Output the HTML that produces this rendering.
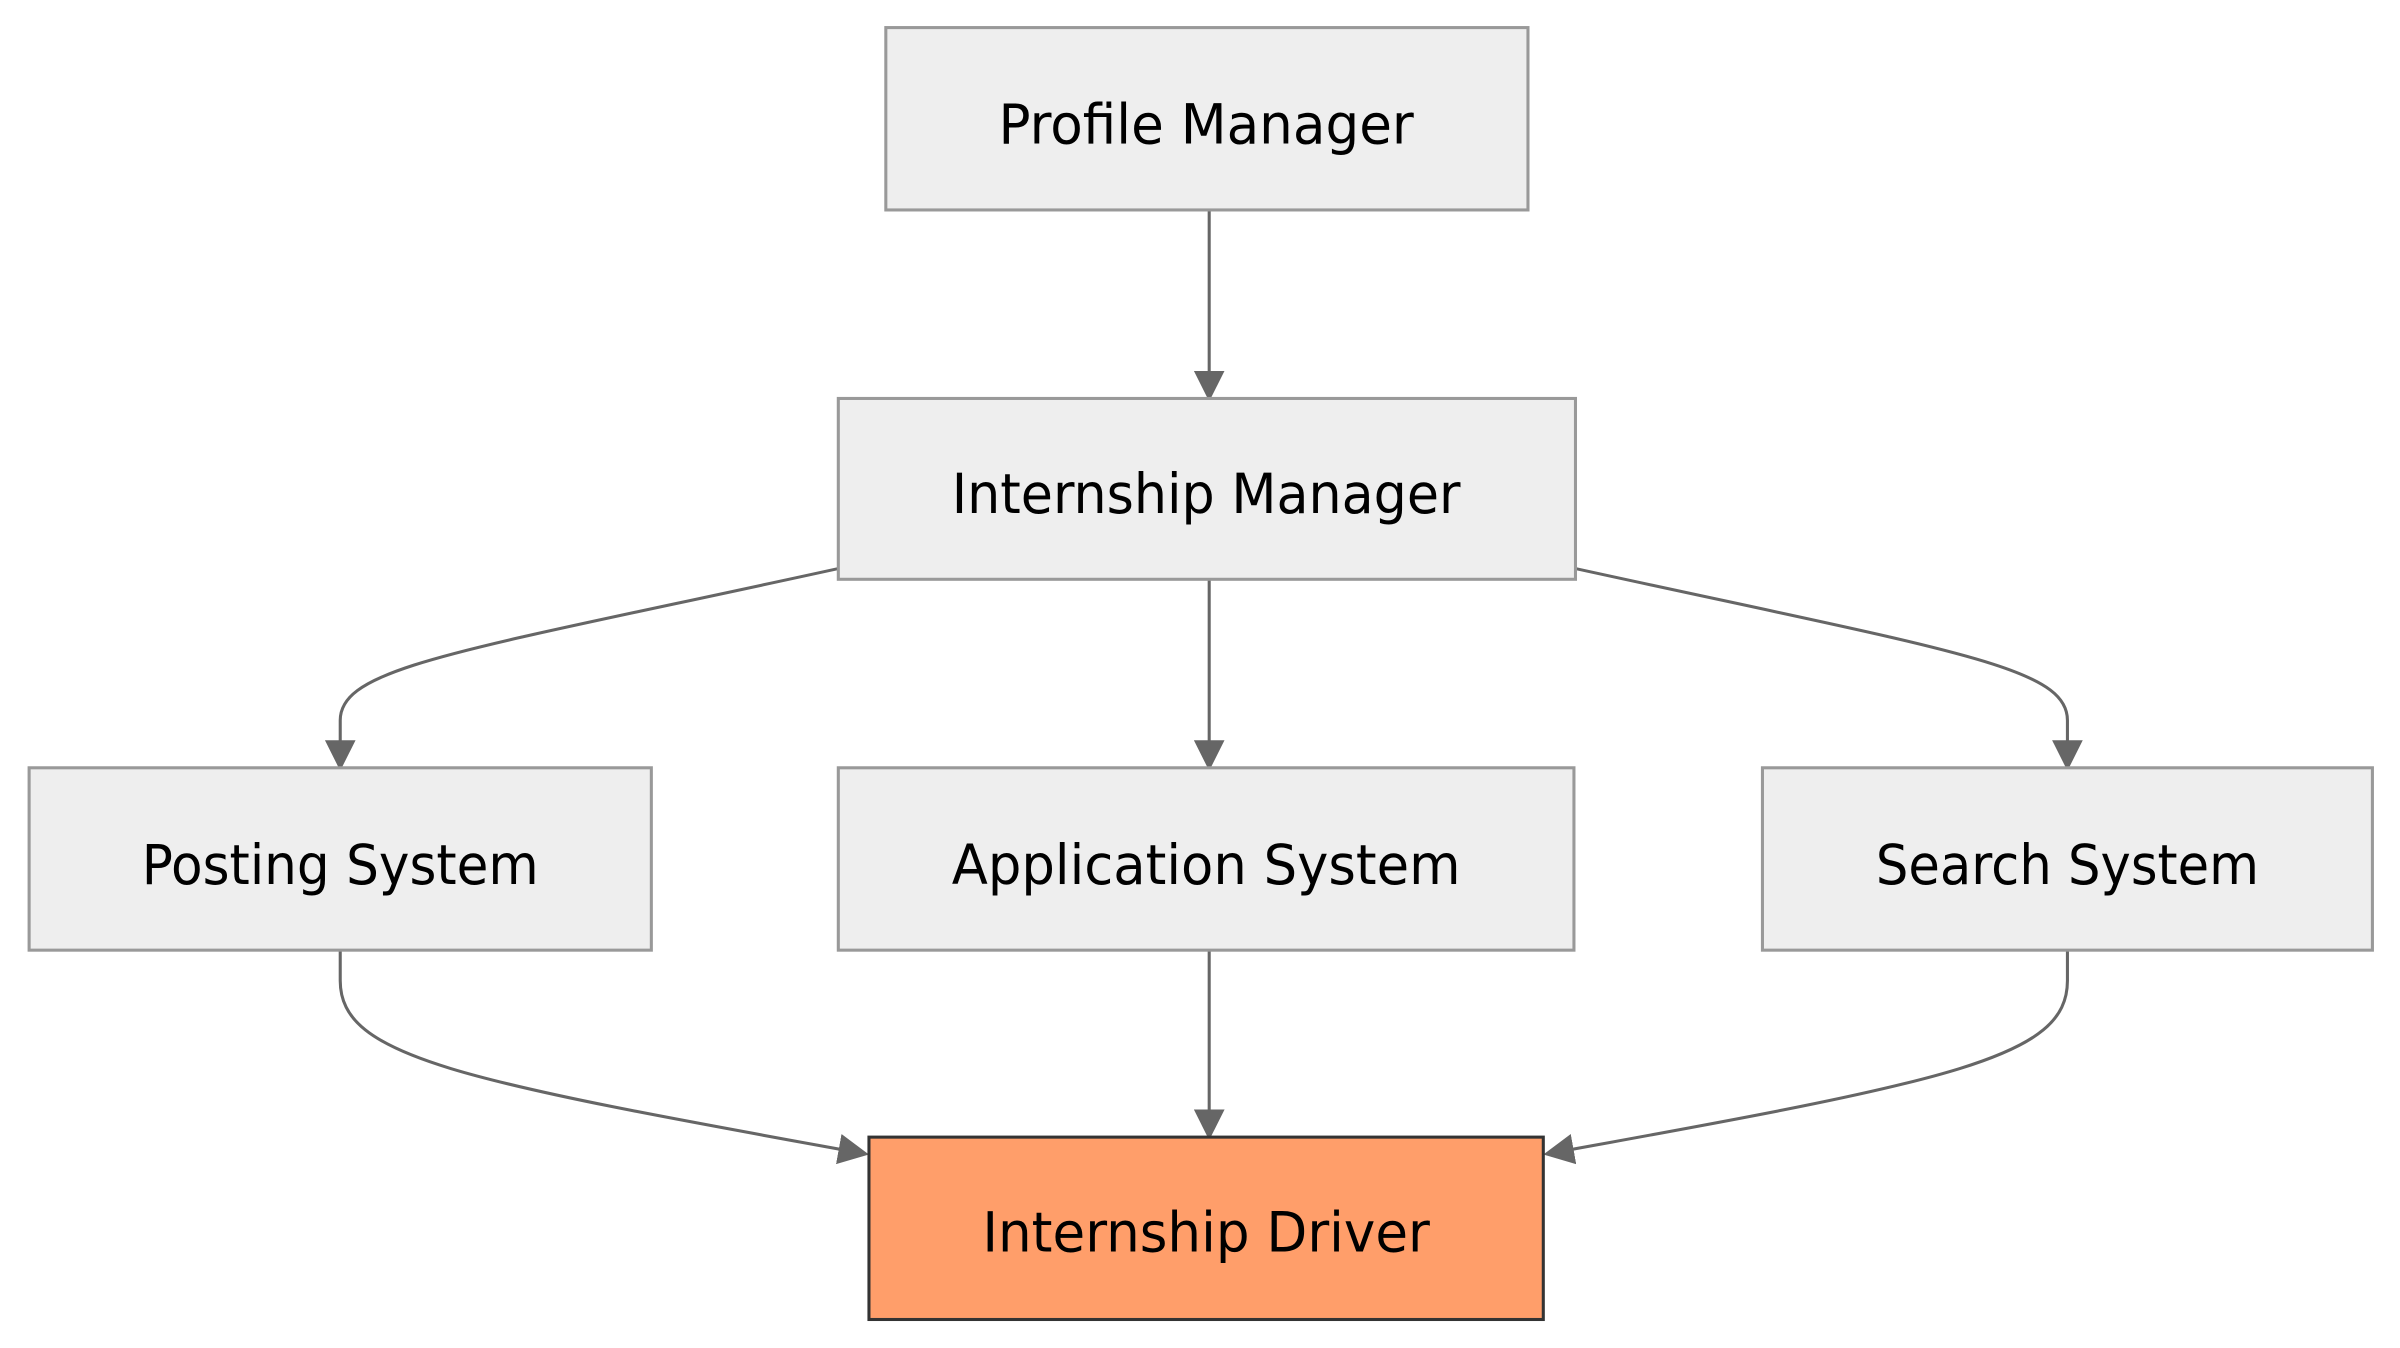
<!DOCTYPE html>
<html><head><style>html,body{margin:0;padding:0;background:#fff;width:2400px;height:1348px;overflow:hidden}</style></head>
<body>
<svg width="2400" height="1348" viewBox="0 0 1566 879.6" preserveAspectRatio="none" xmlns="http://www.w3.org/2000/svg">
<defs>
<marker id="b" viewBox="0 0 10 10" refX="9" refY="5" markerWidth="20" markerHeight="20" markerUnits="userSpaceOnUse" orient="auto"><path d="M0,0L10,5L0,10z" fill="#666"/></marker></defs>
<g fill="none" stroke="#666" stroke-width="2">
<path d="M789,137 L789,260" marker-end="url(#b)"/>
<path d="M789,378 L789,501" marker-end="url(#b)"/>
<path d="M789,620 L789,742" marker-end="url(#b)"/>
<path d="M547,371 C300,425 222,435 222,470 L222,501" marker-end="url(#b)"/>
<path d="M1028,371 C1275,425 1349,435 1349,470 L1349,501" marker-end="url(#b)"/>
<path d="M222,620 L222,640 C222,690 300,705 565,753" marker-end="url(#b)"/>
<path d="M1349,620 L1349,640 C1349,690 1275,705 1009,753" marker-end="url(#b)"/>
</g>
<g stroke="#999" stroke-width="2" fill="#eee">
<rect x="578" y="18" width="419" height="119"/>
<rect x="547" y="260" width="481" height="118"/>
<rect x="19" y="501" width="406" height="119"/>
<rect x="547" y="501" width="480" height="119"/>
<rect x="1150" y="501" width="398" height="119"/>
</g>
<rect x="567" y="742" width="440" height="119" fill="#ff9e6a" stroke="#333" stroke-width="2"/>
<g font-family="'DejaVu Sans','Liberation Sans',sans-serif" font-size="36" text-anchor="middle" dominant-baseline="central" fill="#000" lengthAdjust="spacingAndGlyphs">
<text x="787" y="82" textLength="271" lengthAdjust="spacingAndGlyphs">Profile Manager</text>
<text x="787" y="323" textLength="332" lengthAdjust="spacingAndGlyphs">Internship Manager</text>
<text x="222" y="565" textLength="259" lengthAdjust="spacingAndGlyphs">Posting System</text>
<text x="787" y="565" textLength="332" lengthAdjust="spacingAndGlyphs">Application System</text>
<text x="1349" y="565" textLength="250" lengthAdjust="spacingAndGlyphs">Search System</text>
<text x="787" y="805" textLength="292" lengthAdjust="spacingAndGlyphs">Internship Driver</text>
</g>
</svg>
</body></html>
